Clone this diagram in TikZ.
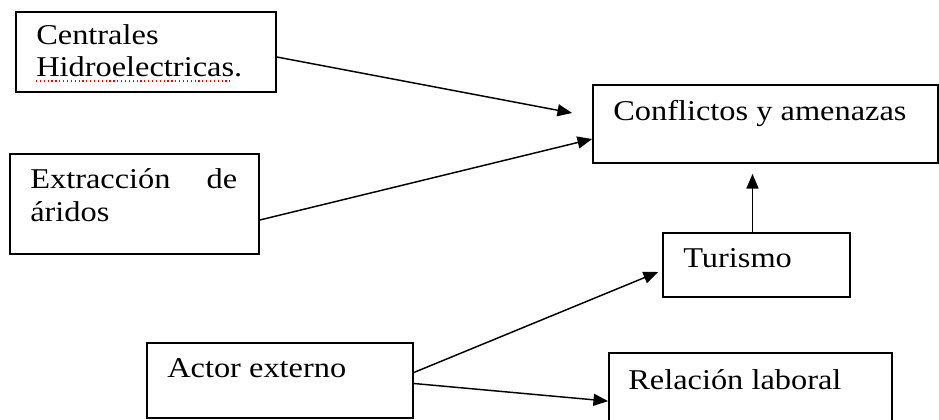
\documentclass[tikz,border=0pt]{standalone}
\usepackage{fontspec}
\setmainfont{Liberation Serif}
\usetikzlibrary{arrows.meta,calc,fit}
\newcommand\sx[1]{\scalebox{1.13}[1]{#1}}
\begin{document}
\begin{tikzpicture}[x=0.75pt,y=-0.75pt,
  box/.style={draw, line width=1.3pt, inner sep=0pt, rectangle},
  txt/.style={anchor=base west, inner sep=0pt, font=\fontsize{21.5}{25}\selectfont},
  arr/.style={line width=1.1pt, -{Triangle[length=11pt,width=9pt]}}]
\useasboundingbox[fill=white] (0,0) rectangle (939,420);

% boxes
\node[box, fit={(16,12) (276,92)}]   (c) {};
\node[box, fit={(10,154) (259,254)}] (e) {};
\node[box, fit={(593,85) (938,163)}] (k) {};
\node[box, fit={(663,233) (850,297)}] (t) {};
\node[box, fit={(147,343) (413,418)}] (a) {};
\node[box, fit={(609,353) (892,440)}] (r) {};

% labels
\node[txt] (c1) at (36,45) {\sx{Centrales}};
\node[txt] (c2) at (36,77) {\sx{Hidroelectricas.}};
\draw[red, dotted, line width=0.9pt] (c2.base west) ++(0,4) coordinate (u1) -- ($(u1)+(194,0)$) coordinate (u2);
\node[txt] (e1) at (30,189) {\sx{\hbox to 137.4pt{Extracción\hfill de}}};
\node[txt] (e2) at (30,222) {\sx{áridos}};
\node[txt] (k1) at (613,121) {\sx{Conflictos y amenazas}};
\node[txt] (t1) at (683,268) {\sx{Turismo}};
\node[txt] (a1) at (167,378) {\sx{Actor externo}};
\node[txt] (r1) at (628,389) {\sx{Relación laboral}};

% connectors
\coordinate (cend) at ($(k.west)+(-20,-11)$);
\draw[arr] ($(c.east)+(0,5)$) -- (cend);
\draw[arr] ($(e.east)+(0,16)$) -- ($(k.west)+(0,15)$);
\draw[arr] ($(t.north)+(-4,0)$) -- ($(t.north |- k.south)+(-4,10)$);
\draw[arr] ($(a.east)+(0,-8)$) -- ($(t.west)+(-4,7)$);
\draw[arr] ($(a.east)+(0,3)$) -- ($(r.north west)+(0,49)$);
\end{tikzpicture}
\end{document}
